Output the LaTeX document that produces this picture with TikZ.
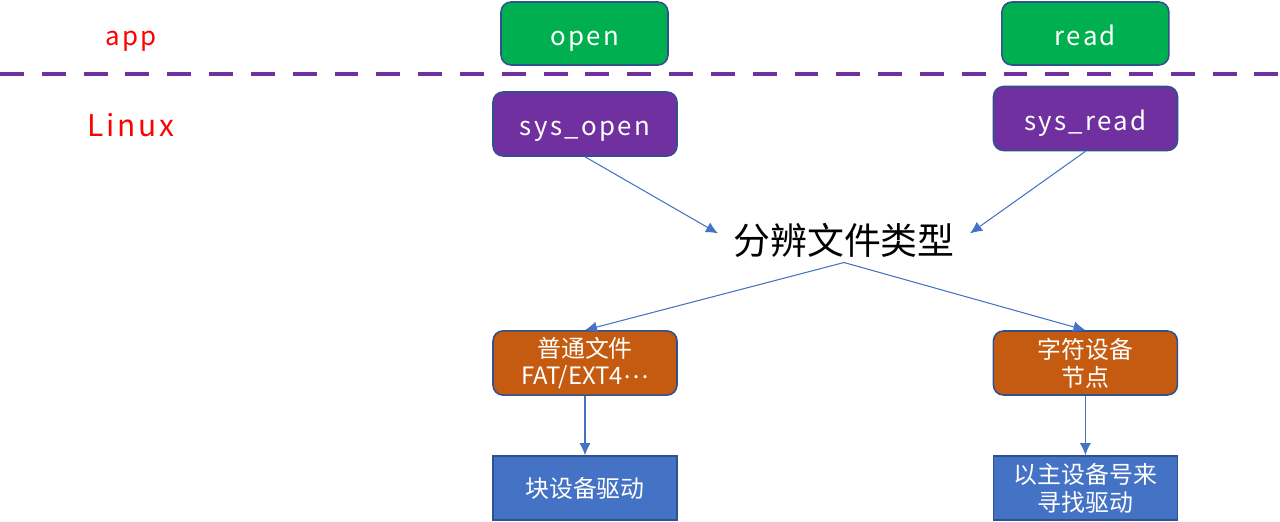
\documentclass[tikz,border=0pt]{standalone}
\usepackage{fontspec}
\setmainfont{Noto Sans CJK SC}
\newfontfamily\widefont[LetterSpace=9]{Noto Sans CJK SC}
\usetikzlibrary{positioning,arrows.meta}
\definecolor{appgreen}{HTML}{00B050}
\definecolor{kpurple}{HTML}{7030A0}
\definecolor{fsorange}{HTML}{C55A11}
\definecolor{drvblue}{HTML}{4472C4}
\definecolor{edgeblue}{HTML}{2F528F}
\tikzstyle{call}=[draw=edgeblue, fill=appgreen, text=white, rounded corners=0.2cm, minimum height = 1.26cm, minimum width=3.34cm, line width=0.9pt, text height=0.55cm, text depth=0.09cm, font=\widefont\fontsize{14.7}{17}\selectfont]
\tikzstyle{sys}=[call, fill=kpurple, minimum height = 1.28cm, minimum width=3.68cm]
\tikzstyle{kind}=[draw=edgeblue, text=white, rounded corners=0.2cm, line width=0.9pt, fill=fsorange, minimum height = 1.28cm, minimum width=3.68cm, align=center, font=\fontsize{13.6}{15.9}\selectfont]
\tikzstyle{drv}=[kind, fill=drvblue, rounded corners=0pt]
\tikzstyle{layer}=[text=red, text height=0.55cm, text depth=0.09cm, font=\widefont\fontsize{14.7}{17}\selectfont]
\tikzstyle{link}=[->, draw=drvblue, line width=0.6pt]

\begin{document}
\begin{tikzpicture}[x=0.02cm,y=-0.02cm,>={Latex[length=0.24cm,width=0.22cm]}]
\useasboundingbox (0,0) rectangle (1280,521);
\draw[kpurple, line width=2.8pt, dash pattern=on 13.6pt off 10.2pt] (0,74) -- (1280,74);

\node[layer] at (131,33.5) (app) {app};
\node[layer, font=\widefont\fontsize{17}{20}\selectfont] at (131,124.5) (linux) {Linux};

\node[call] at (584.5,33.5) (open) {open};
\node[call, right of = open, node distance = 10.02cm] (read) {read};

\node[sys] at (585,124) (sysopen) {sys\_open};
\node[sys] at (1085.5,118.5) (sysread) {sys\_read};

\node[font=\fontsize{21}{25}\selectfont, inner xsep=0.3cm, inner ysep=0.1cm] at (844,240) (type) {分辨文件类型};
\draw[link] (sysopen.south) -- (type.177);
\draw[link] (sysread.south) -- (type.3);

\node[kind] at (585,363) (fs) {普通文件\\FAT/EXT4\raisebox{0.25em}{…}};
\node[kind, right of = fs, node distance = 10.01cm] (chr) {字符设备\\节点};
\draw[link] (type.south) -- (fs.north);
\draw[link] (type.south) -- (chr.north);

\node[drv, below of = fs, node distance = 2.5cm] (blk) {块设备驱动};
\node[drv, below of = chr, node distance = 2.5cm] (major) {以主设备号来\\寻找驱动};
\draw[link] (fs) -- (blk);
\draw[link] (chr) -- (major);
\end{tikzpicture}
\end{document}
